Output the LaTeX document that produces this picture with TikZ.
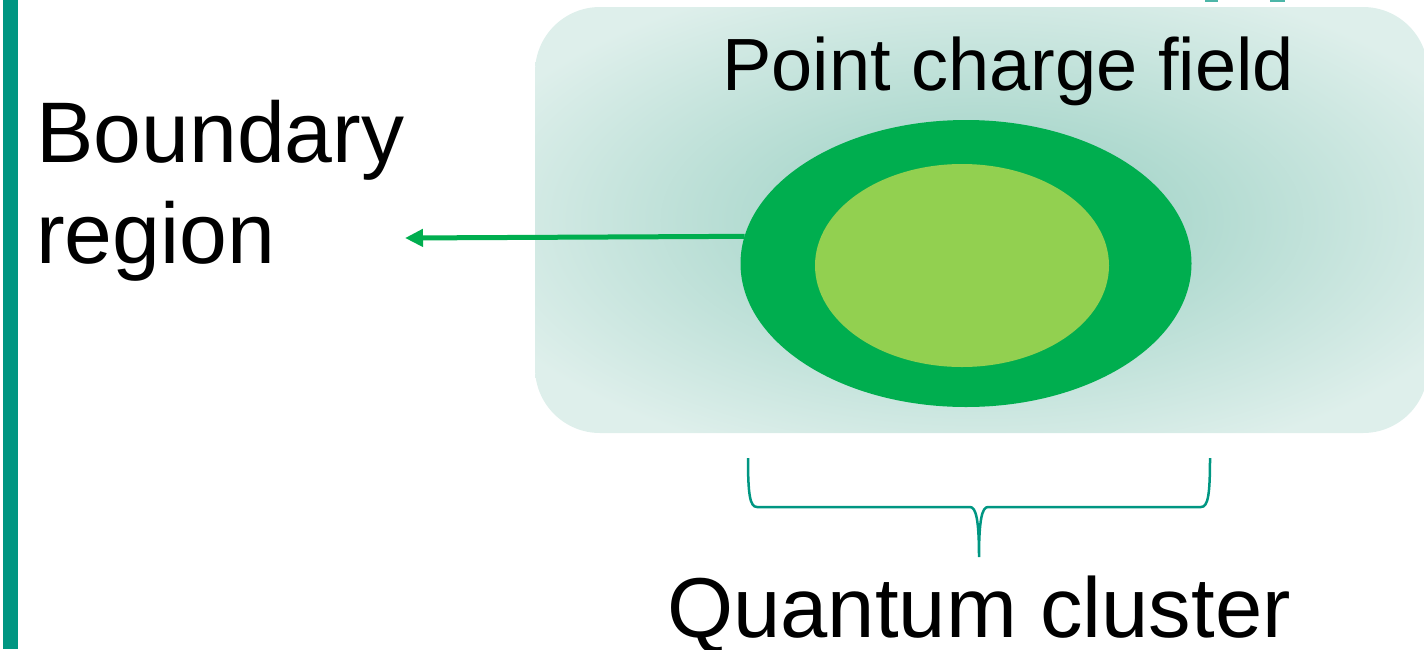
\documentclass[tikz,border=0pt]{standalone}
\usepackage{fontspec}
\setmainfont{Liberation Sans}
\usetikzlibrary{arrows.meta, shapes.geometric, positioning}
\definecolor{barteal}{RGB}{0,150,130}
\definecolor{fieldlight}{RGB}{222,239,235}
\definecolor{fielddark}{RGB}{163,212,200}
\definecolor{shellgreen}{RGB}{0,174,79}
\definecolor{coregreen}{RGB}{146,208,80}
\pgfdeclareradialshading{fieldglow}{\pgfpoint{0bp}{0bp}}{color(0bp)=(fielddark); color(6bp)=(fielddark); color(30bp)=(fieldlight); color(50bp)=(fieldlight)}

\begin{document}
\begin{tikzpicture}[x=1pt, y=-1pt,
  cluster/.style={ellipse, draw=none, inner sep=0pt, outer sep=0pt},
  label/.style={inner sep=0pt, text=black},
  arrow/.style={-{Triangle[length=18pt, width=17pt]}, line width=5pt, draw=shellgreen},
  bracecurve/.style={draw=barteal, line width=2.5pt}
]
\useasboundingbox (0,0) rectangle (1424,649);
\clip (0,0) rectangle (1424,649);
% left rule
\fill[barteal] (3,0) rectangle (18,649);
\fill[barteal!70] (1205,0) rectangle (1218,2);
\fill[barteal!70] (1270,0) rectangle (1285,2);
% point charge field
\path[shading=fieldglow, rounded corners=65pt] (535,7) rectangle (1428,433);
\node[cluster, minimum width=451pt, minimum height=287pt, fill=shellgreen] (shell) at (966,263.5) {};
\node[cluster, minimum width=294pt, minimum height=203pt, fill=coregreen] (core) at (962,265.5) {};
% labels
\node[label, anchor=base, font=\fontsize{74}{84}\selectfont] (fieldlabel) at (1008,90) {Point charge field};
\node[label, anchor=base west, align=left, font=\fontsize{86}{101}\selectfont] (boundlabel) at (36,263) {Boundary\\region};
\node[label, anchor=base, font=\fontsize{85}{96}\selectfont] (clusterlabel) at (979,637) {Quantum cluster};
% boundary arrow
\coordinate (boundtip) at (405,238);
\draw[arrow] (shell.173) -- (boundtip);
% brace under the cluster
\coordinate (braceL) at (748,458);
\coordinate (braceR) at (1210,458);
\coordinate (braceTip) at (979,557);
\draw[bracecurve] (braceL) .. controls (748,495) and (750,507) .. (757,507) -- (970,507)
  .. controls (976,507) and (979,520) .. (braceTip)
  .. controls (979,520) and (982,507) .. (988,507) -- (1201,507)
  .. controls (1208,507) and (1210,495) .. (braceR);
\end{tikzpicture}
\end{document}
